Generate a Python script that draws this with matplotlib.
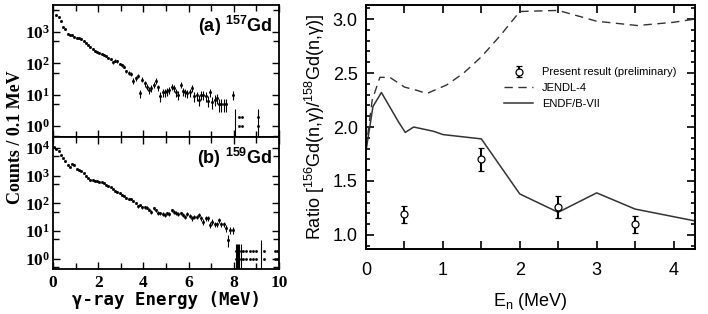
import numpy as np
import matplotlib
matplotlib.use('Agg')
import matplotlib.pyplot as plt
from matplotlib.ticker import FixedLocator, FixedFormatter, MultipleLocator, NullFormatter

plt.rcParams['mathtext.fontset'] = 'custom'
plt.rcParams['mathtext.bf'] = 'Liberation Serif:bold'
plt.rcParams['mathtext.sf'] = 'Liberation Sans:bold'
plt.rcParams['mathtext.rm'] = 'Liberation Sans'
plt.rcParams['mathtext.it'] = 'Liberation Sans:italic'

# ---- gamma-ray spectra, counts per 0.1 MeV bin (bin centres from 0.15 MeV) ----
gd157_counts = [3400, 2900, 2200, 1450, 1200, 880, 800, 780, 690, 650,
                620, 590, 520, 460, 390, 320, 280, 250, 235, 210,
                200, 190, 175, 150, 135, 108, 122, 115, 95, 88,
                78, 56, 50, 46, 28, 34, 40, 11, 30, 23,
                18, 14, 16, 21, 28, 17, 9, 12, 12, 13,
                14, 18, 16, 12, 10, 21, 13, 12, 11, 12,
                16, 9, 9.5, 7, 10, 10, 9, 6.5, 12, 6,
                7, 8, 5, 5, 5, 5, np.nan, np.nan, 10]
gd157_dots_E = [8.23, 8.23, 8.38, 8.38, 9.06, 9.06]
gd157_dots_y = [2, 1, 2, 1, 2, 1]
gd157_bar_E = [8.05, 9.06]
gd157_bar_top = [3.6, 3.6]

# 159Gd starts one bin lower (0.05 MeV)
gd159_counts = [10500, 9500, 8000, 5500, 4300, 3300, 2400, 2100, 2600, 2500,
                1750, 1600, 1500, 1250, 1000, 800, 720, 680, 660, 640,
                600, 570, 530, 470, 420, 380, 340, 290, 255, 230,
                205, 180, 155, 150, 150, 120, 105, 78, 88, 73,
                72, 70, 60, 50, 66, 57, 45, 44, 42, 38,
                44, 42, 57, 50, 46, 42, 44, 38, 33, 42,
                35, 29, 33, 33, 38, 29, 22, 29, 29, 17,
                22, 18, 18, 25, 18, 18, 12.6, 4.8, 11, 11]
gd159_dots_E = [8.1, 8.2, 8.3, 8.4, 8.55, 8.7, 8.85, 9.0, 9.35, 9.8, 9.9,
                8.1, 8.2, 8.3, 8.4, 8.55, 8.7, 8.85, 9.0, 9.35, 9.8, 9.9]
gd159_dots_y = [2] * 11 + [1] * 11
gd159_bar_E = [8.1, 8.15, 8.2, 8.25, 8.3, 9.22]
gd159_bar_top = [3.5, 3.5, 3.5, 3.5, 3.5, 4.8]

# ---- cross-section ratio ----
jendl_E = [0.0, 0.08, 0.18, 0.31, 0.5, 0.66, 0.79, 1.05, 1.27, 1.5, 1.75, 2.0, 2.5, 3.0, 3.53, 4.0, 4.28]
jendl_r = [1.80, 2.25, 2.46, 2.46, 2.37, 2.34, 2.31, 2.39, 2.50, 2.65, 2.85, 3.07, 3.08, 2.98, 2.94, 2.97, 3.00]
endf_E = [0.0, 0.09, 0.2, 0.42, 0.51, 0.62, 0.88, 1.0, 1.5, 2.0, 2.5, 3.0, 3.5, 4.28]
endf_r = [1.78, 2.19, 2.32, 2.05, 1.95, 2.0, 1.96, 1.93, 1.89, 1.38, 1.21, 1.39, 1.24, 1.13]
meas_E = [0.5, 1.5, 2.5, 3.5]
meas_r = [1.19, 1.70, 1.26, 1.10]
meas_err = [0.08, 0.11, 0.10, 0.08]

fig = plt.figure(figsize=(7.08, 3.14), dpi=100)
axa = fig.add_axes([0.0749, 0.5637, 0.3192, 0.4204])
axb = fig.add_axes([0.0749, 0.1433, 0.3192, 0.4204])
axr = fig.add_axes([0.517, 0.207, 0.4647, 0.777])

serif = dict(family='Liberation Serif', weight='bold')


def spectrum(ax, start, counts, dots_E, dots_y, bar_E, bar_top, ylim, decades, label):
    counts = np.array(counts, dtype=float)
    E = start + 0.1 * np.arange(len(counts))
    err = np.sqrt(counts)
    ax.errorbar(E, counts, yerr=err, fmt='s', ms=1.0, color='black',
                elinewidth=0.8, capsize=0)
    ax.vlines(bar_E, 0.3, bar_top, color='black', lw=0.8)
    ax.plot(dots_E, dots_y, 's', ms=0.9, color='black', ls='none')
    ax.set_yscale('log')
    ax.set_xlim(0, 10)
    ax.set_ylim(*ylim)
    ax.yaxis.set_major_locator(FixedLocator([10.0 ** d for d in decades]))
    ax.yaxis.set_major_formatter(FixedFormatter([r'$\mathbf{10^{%d}}$' % d for d in decades]))
    ax.yaxis.set_minor_locator(FixedLocator([5 * 10.0 ** d for d in range(-1, 5)]))
    ax.yaxis.set_minor_formatter(NullFormatter())
    ax.xaxis.set_major_locator(MultipleLocator(2))
    ax.xaxis.set_minor_locator(MultipleLocator(1))
    ax.tick_params(which='both', direction='in', top=True, right=True, width=1.0)
    ax.tick_params(which='major', length=5, labelsize=12.5, pad=2)
    ax.tick_params(which='minor', length=4)
    for s in ax.spines.values():
        s.set_linewidth(1.3)
    ax.text(0.97, 0.93, label, transform=ax.transAxes, ha='right', va='top',
            fontsize=13, family='Liberation Sans', weight='bold')


spectrum(axa, 0.15, gd157_counts, gd157_dots_E, gd157_dots_y, gd157_bar_E, gd157_bar_top,
         (0.45, 7200), [0, 1, 2, 3], r'(a) $^{\mathsf{157}}$Gd')
spectrum(axb, 0.05, gd159_counts, gd159_dots_E, gd159_dots_y, gd159_bar_E, gd159_bar_top,
         (0.43, 25000), [0, 1, 2, 3, 4], r'(b) $^{\mathsf{159}}$Gd')
axa.tick_params(labelbottom=False)
for lab in axb.get_xticklabels() + axa.get_yticklabels() + axb.get_yticklabels():
    lab.set_fontfamily('Liberation Serif')
    lab.set_fontweight('bold')
axb.set_xticks([0, 2, 4, 6, 8, 10])
axb.set_xticklabels(['0', '2', '4', '6', '8', '10'], fontdict=dict(size=12.5, **serif))
axb.tick_params(axis='x', pad=4)
axb.set_xlabel('γ-ray Energy (MeV)', family='DejaVu Sans Mono', weight='bold',
               fontsize=12.5, labelpad=0)
fig.text(0.022, 0.5637, 'Counts / 0.1 MeV', rotation=90, ha='center', va='center',
         fontsize=13, **serif)

# right panel
axr.plot(jendl_E, jendl_r, color='#333333', lw=1.0, ls=(0, (6, 4)), label='JENDL-4')
axr.plot(endf_E, endf_r, color='#333333', lw=1.1, label='ENDF/B-VII')
axr.errorbar(meas_E, meas_r, yerr=meas_err, fmt='o', mfc='white', mec='black', ms=5,
             mew=0.9, color='black', elinewidth=1.5, capsize=2, capthick=1.2,
             label='Present result (preliminary)')
axr.set_xlim(0, 4.28)
axr.set_ylim(0.87, 3.13)
axr.xaxis.set_major_locator(MultipleLocator(1))
axr.xaxis.set_minor_locator(MultipleLocator(0.5))
axr.yaxis.set_major_locator(MultipleLocator(0.5))
axr.yaxis.set_minor_locator(MultipleLocator(0.1))
axr.tick_params(which='both', direction='in', top=True, right=True, width=1.2)
axr.tick_params(which='major', length=6, labelsize=13, pad=6)
axr.tick_params(axis='x', which='major', pad=9)
axr.tick_params(which='minor', axis='x', length=6)
axr.tick_params(which='minor', axis='y', length=3)
for lab in axr.get_xticklabels() + axr.get_yticklabels():
    lab.set_fontfamily('Liberation Sans')
for s in axr.spines.values():
    s.set_linewidth(1.4)
axr.set_xlabel(r'E$_{\mathrm{n}}$ (MeV)', family='Liberation Sans', fontsize=13, labelpad=9)
axr.set_ylabel(r'Ratio [$^{\mathrm{156}}$Gd(n,γ)/$^{\mathrm{158}}$Gd(n,γ)]',
               family='Liberation Sans', fontsize=13, labelpad=4)
h, l = axr.get_legend_handles_labels()
axr.legend([h[2], h[0], h[1]], [l[2], l[0], l[1]], loc='upper left',
           bbox_to_anchor=(0.39, 0.785), frameon=False,
           handlelength=2.6, handletextpad=0.8, labelspacing=0.5,
           prop=dict(family='Liberation Sans', size=8))

fig.savefig('out.png', dpi=100)
